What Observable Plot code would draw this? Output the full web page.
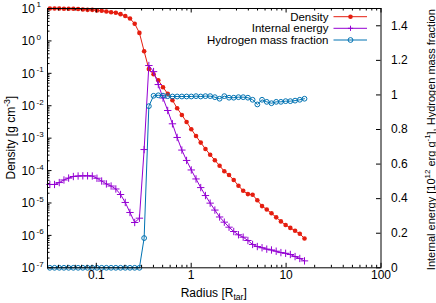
<!DOCTYPE html>
<html><head><meta charset="utf-8">
<script src="https://cdn.jsdelivr.net/npm/d3@7"></script>
<script src="https://cdn.jsdelivr.net/npm/@observablehq/plot@0.6"></script>
<style>body{margin:0;background:#fff}#chart{width:436px;height:303px}</style>
</head><body><div id="chart"></div>
<script>
// ---- data ----
const radius = [0.0324,0.0363,0.0407,0.0456,0.0511,0.0573,0.0643,0.0721,0.0809,0.0907,
  0.1016,0.1139,0.1277,0.1432,0.1606,0.1801,0.2019,0.2264,0.2539,0.2846,
  0.3192,0.3579,0.4013,0.4499,0.5045,0.5656,0.6342,0.7111,0.7973,0.894,
  1.002,1.124,1.26,1.413,1.584,1.776,1.992,2.233,2.504,2.807,
  3.148,3.529,3.957,4.437,4.975,5.578,6.254,7.012,7.863,8.816,
  9.886,11.08,12.43,13.94,15.63];
const density = [10,10,10,9.8,9.8,9.8,9.6,9.3,9.1,9.1,
  8.7,8.5,8.1,7.7,7.4,6.7,5.9,4.9,3.4,1.77,
  0.48,0.135,0.094,0.0612,0.0372,0.0234,0.0148,0.0084,0.0052,0.00314,
  0.00188,0.00116,0.00073,0.000465,0.000308,0.000208,0.000141,0.0000951,0.0000726,0.0000509,
  0.000034,0.0000238,0.0000188,0.0000179,0.0000121,0.000008,0.0000063,0.0000048,0.0000036,0.0000027,
  0.0000021,0.0000017,0.00000139,0.00000112,0.0000008];
const internalEnergy = [0.482,0.482,0.493,0.508,0.519,0.528,0.531,0.532,0.532,0.531,
  0.518,0.502,0.485,0.473,0.456,0.424,0.378,0.320,0.262,0.287,
  0.684,1.170,1.135,1.060,0.982,0.910,0.833,0.754,0.681,0.621,
  0.566,0.514,0.464,0.418,0.374,0.334,0.294,0.264,0.235,0.210,
  0.191,0.177,0.158,0.135,0.123,0.116,0.108,0.103,0.096,0.088,
  0.084,0.077,0.065,0.054,0.040];
const hydrogenFraction = [0,0,0,0,0,0,0,0,0,0,
  0,0,0,0,0,0,0,0,0,0,
  0.172,0.935,0.995,0.998,0.996,0.993,0.991,0.991,0.991,0.991,
  0.991,0.993,0.991,0.993,0.993,0.987,0.978,0.993,0.984,0.984,
  0.987,0.987,0.984,0.972,0.945,0.972,0.960,0.952,0.960,0.960,
  0.964,0.964,0.967,0.972,0.978];
const seriesNames = ["Density","Internal energy","Hydrogen mass fraction"];
const seriesColors = ["#e51e10","#9400d3","#0072b2"];
const xTicks = [0.1,1,10,100];
const xTickLabels = ["0.1","1","10","100"];
const yTickExponents = [1,0,-1,-2,-3,-4,-5,-6,-7];
const rightTicks = [0,0.2,0.4,0.6,0.8,1,1.2,1.4];
const rightTickLabels = ["0","0.2","0.4","0.6","0.8","1","1.2","1.4"];

// ---- layout ----
const W = 436, H = 303, mL = 47, mR = 55.5, mT = 8, mB = 35.7;
const innerW = W - mL - mR, innerH = H - mT - mB;
const xDomain = [0.0306, 100], yMin = 1e-7, yMax = 10, rightMax = 1.5;
const font = "'Liberation Sans', Arial, Helvetica, sans-serif";
const fs = 12;
// map right-axis (linear) values onto the left log scale
const toLeft = v => 10 ** (Math.log10(yMin) + (v / rightMax) * Math.log10(yMax / yMin));

const rows = radius.map((r, i) => ({r, d: density[i], e: toLeft(internalEnergy[i]), h: toLeft(hydrogenFraction[i])}));
const yTicks = yTickExponents.map(e => 10 ** e);
const xMinor = [], yMinor = [];
for (let e = -2; e <= 1; e++) for (let k = 2; k <= 9; k++) { const v = k * 10 ** e; if (v > xDomain[0] && v < xDomain[1]) xMinor.push(v); }
for (let e = -7; e <= 0; e++) for (let k = 2; k <= 9; k++) yMinor.push(k * 10 ** e);
const rightMapped = rightTicks.map(toLeft);
const [red, purple, blue] = seriesColors;
const tk = 4.5, tkm = 2.5;

const plot = Plot.plot({
  width: W, height: H, marginLeft: mL, marginRight: mR, marginTop: mT, marginBottom: mB,
  style: {fontFamily: font, fontSize: fs + "px", background: "#fff", color: "#000"},
  x: {type: "log", domain: xDomain, axis: null},
  y: {type: "log", domain: [yMin, yMax], axis: null},
  marks: [
    Plot.line(rows, {x: "r", y: "d", stroke: red, strokeWidth: 1}),
    Plot.dot(rows, {x: "r", y: "d", fill: red, r: 2.3}),
    Plot.line(rows, {x: "r", y: "e", stroke: purple, strokeWidth: 1}),
    Plot.dot(rows, {x: "r", y: "e", symbol: "plus", stroke: purple, r: 2.5, strokeWidth: 1}),
    Plot.line(rows, {x: "r", y: "h", stroke: blue, strokeWidth: 1}),
    Plot.dot(rows, {x: "r", y: "h", stroke: blue, fill: "none", r: 2.4, strokeWidth: 1}),
    // ticks (inward, gnuplot style)
    Plot.ruleX(xTicks, {x: d => d, insetTop: innerH - tk, stroke: "#000"}),
    Plot.ruleX(xTicks, {x: d => d, insetBottom: innerH - tk, stroke: "#000"}),
    Plot.ruleX(xMinor, {x: d => d, insetTop: innerH - tkm, stroke: "#000"}),
    Plot.ruleX(xMinor, {x: d => d, insetBottom: innerH - tkm, stroke: "#000"}),
    Plot.ruleY(yTicks, {y: d => d, insetRight: innerW - tk, stroke: "#000"}),
    Plot.ruleY(yMinor, {y: d => d, insetRight: innerW - tkm, stroke: "#000"}),
    Plot.ruleY(rightMapped, {y: d => d, insetLeft: innerW - tk, stroke: "#000"}),
    Plot.frame({stroke: "#000", strokeWidth: 1}),
    // tick labels
    Plot.text(xTicks, {x: d => d, frameAnchor: "bottom", dy: 11, text: (d, i) => xTickLabels[i], fontSize: fs, fill: "#000"}),
    Plot.text(yTicks, {y: d => d, frameAnchor: "left", textAnchor: "start", dx: -26, dy: 0.5, text: () => "10", fontSize: fs, fill: "#000"}),
    Plot.text(yTicks, {y: d => d, frameAnchor: "left", textAnchor: "start", dx: -11, dy: -3.6, text: (d, i) => String(yTickExponents[i]), fontSize: 8, fill: "#000"}),
    Plot.text(rightMapped, {y: d => d, frameAnchor: "right", textAnchor: "start", dx: 10, text: (d, i) => rightTickLabels[i], fontSize: fs, fill: "#000"})
  ]
});

const svg = d3.select(plot);
// axis titles with sub/superscripts
function addText(g, parts, size) {
  const t = g.append("text").attr("font-size", size).attr("fill", "#000").attr("text-anchor", "middle");
  let shift = 0;
  for (const [s, kind] of parts) {
    const target = kind === "sup" ? -5 : kind === "sub" ? 3 : 0;
    t.append("tspan").attr("dy", target - shift).attr("font-size", kind ? size * 0.72 : size).text(s);
    shift = target;
  }
  return t;
}
addText(svg.append("g").attr("transform", `translate(15,${mT + innerH / 2}) rotate(-90)`),
  [["Density [g cm"], ["-3", "sup"], ["]"]], fs);
addText(svg.append("g").attr("transform", `translate(${mL + innerW / 2},297)`),
  [["Radius [R"], ["tar", "sub"], ["]"]], fs);
addText(svg.append("g").attr("transform", `translate(435,${mT + innerH / 2 + 2}) rotate(-90)`),
  [["Internal energy [10"], ["12", "sup"], [" erg g"], ["-1", "sup"], ["], Hydrogen mass fraction"]], 11);

// key (inside plot, top right)
const key = svg.append("g").attr("font-size", 11.5).attr("fill", "#000");
const keyY = [16.7, 28.3, 40];
seriesNames.forEach((name, i) => {
  const y = keyY[i];
  key.append("text").attr("x", 328.5).attr("y", y).attr("dy", "0.35em").attr("text-anchor", "end").text(name);
  key.append("line").attr("x1", 333.5).attr("x2", 367).attr("y1", y).attr("y2", y).attr("stroke", seriesColors[i]).attr("stroke-width", 1);
  if (i === 0) key.append("circle").attr("cx", 350.5).attr("cy", y).attr("r", 2.3).attr("fill", red);
  if (i === 1) key.append("path").attr("d", `M347.9,${y}h5.2M350.5,${y - 2.6}v5.2`).attr("stroke", purple).attr("fill", "none");
  if (i === 2) key.append("circle").attr("cx", 350.5).attr("cy", y).attr("r", 2.4).attr("fill", "none").attr("stroke", blue);
});

document.getElementById("chart").appendChild(plot);
</script>
</body></html>
